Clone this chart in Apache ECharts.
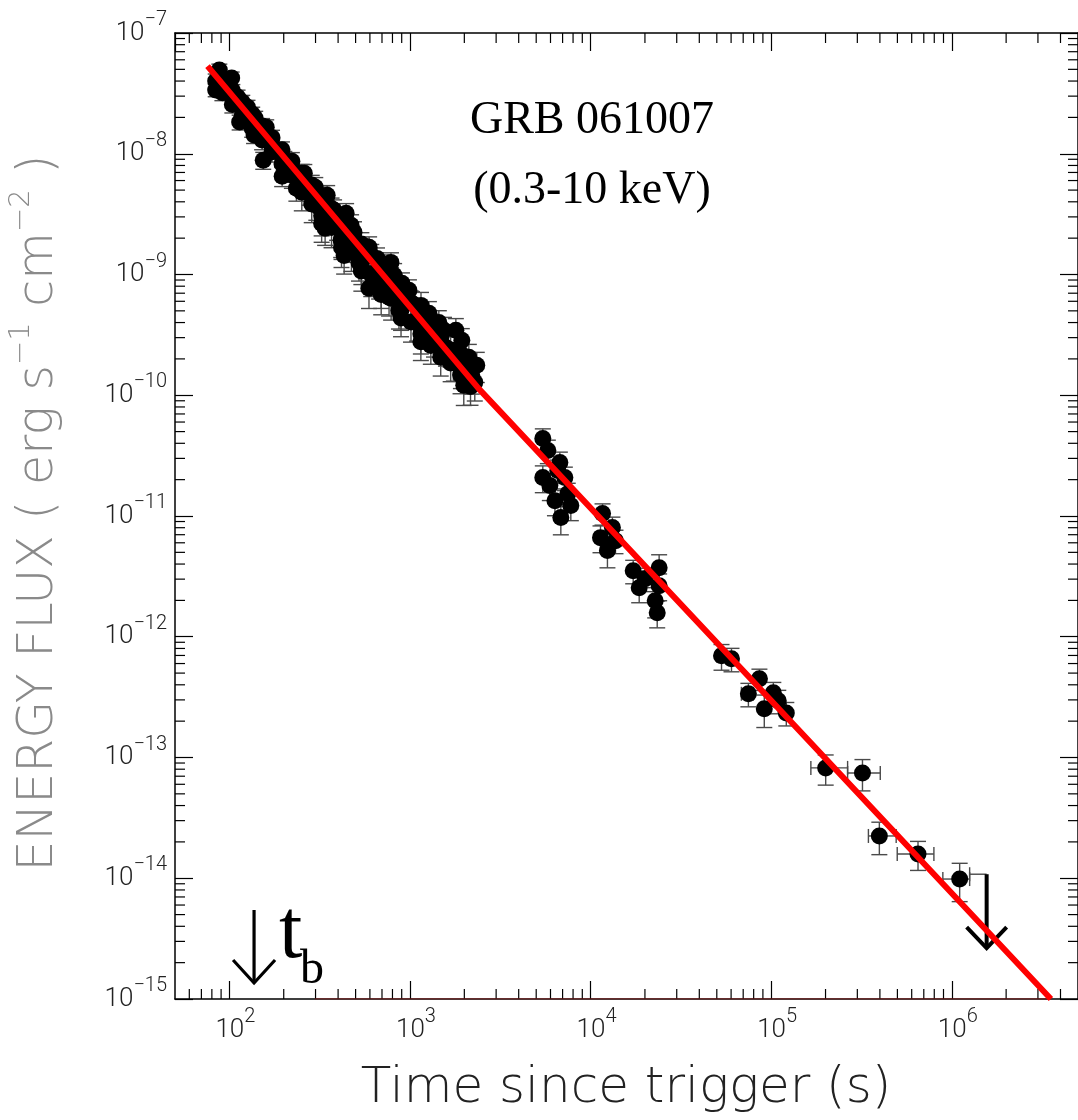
<!DOCTYPE html>
<html><head><meta charset="utf-8">
<script src="https://cdn.jsdelivr.net/npm/echarts@6/dist/echarts.min.js"></script>
<style>html,body{margin:0;padding:0;background:#fff}#c{width:1078px;height:1120px}</style>
</head><body><div id="c"></div>
<script>
// ---------- data ----------
const earlyT = [88,95,84,103,111,126,114,139,160,137,171,154,220,196,260,235,299,348,303,380,443,339,416,490,594,432,522,785,617,718,903,593,766,1026,987,869,1273,1094,1445,1795,1358,1582,1937,2118,1750,2200,1986,2285,97.5,119.5,146.5,184,201.5,243.6,276.8,322,357,395,460,543,657,675,817,961,1151,1242,1543,1866,1915,2344,472,848,
  91.5,103.9,117.9,133.8,151.8,172.3,195.6,221.9,251.8,285.8,324.3,368,417.7,474,538,610.5,692.9,786.3,892.3,1013,1149,1305,1480,1680,1906,2164,
  84,91.5,103.9,117.9,133.8,151.8,172.3,195.6,221.9,251.8,285.8,324.3,368,417.7,474,538,610.5,692.9,786.3,892.3,1013,1149,1305,1480,1680,1906,2164,
  324.3,417.7,538,692.9,892.3,1149];
const earlyF = [4.93e-8,3.92e-8,3.37e-8,4.24e-8,2.95e-8,2.43e-8,1.83e-8,1.97e-8,1.66e-8,1.43e-8,1.18e-8,8.85e-9,8.04e-9,6.52e-9,6.90e-9,5.19e-9,5.29e-9,4.54e-9,3.75e-9,3.40e-9,3.22e-9,2.42e-9,1.92e-9,2.24e-9,1.68e-9,1.44e-9,1.26e-9,1.26e-9,1.02e-9,1.19e-9,8.45e-10,7.69e-10,6.47e-10,5.77e-10,7.40e-10,5.05e-10,4.77e-10,4.01e-10,4.01e-10,3.45e-10,2.96e-10,2.49e-10,2.85e-10,2.06e-10,1.87e-10,1.46e-10,1.21e-10,1.28e-10,3.37e-8,2.30e-8,1.57e-8,1.07e-8,8.85e-9,6.65e-9,4.81e-9,4.12e-9,3.10e-9,2.56e-9,1.75e-9,1.59e-9,1.36e-9,8.95e-10,9.85e-10,6.11e-10,5.55e-10,3.45e-10,3.45e-10,2.35e-10,1.67e-10,1.77e-10,2.56e-9,7.40e-10,
  4.18e-8,3.34e-8,2.67e-8,2.13e-8,1.70e-8,1.36e-8,1.08e-8,8.66e-9,6.91e-9,5.52e-9,4.41e-9,3.52e-9,2.81e-9,2.24e-9,1.79e-9,1.43e-9,1.14e-9,9.12e-10,7.29e-10,5.82e-10,4.64e-10,3.71e-10,2.96e-10,2.37e-10,1.89e-10,1.51e-10,
  4.01e-8,3.20e-8,2.56e-8,2.05e-8,1.63e-8,1.30e-8,1.04e-8,8.27e-9,6.63e-9,4.81e-9,3.84e-9,3.07e-9,2.45e-9,1.96e-9,1.56e-9,1.25e-9,9.95e-10,7.93e-10,6.35e-10,5.07e-10,4.05e-10,3.23e-10,2.58e-10,2.06e-10,1.85e-10,1.47e-10,1.18e-10,
  2.64e-9,1.68e-9,1.07e-9,6.82e-10,4.36e-10,2.77e-10];
const earlyRelErr = [0.12,0.12,0.12,0.12,0.14,0.14,0.14,0.14,0.15,0.15,0.15,0.16,0.16,0.18,0.18,0.22,0.2,0.2,0.25,0.22,0.2,0.28,0.28,0.22,0.22,0.3,0.3,0.2,0.28,0.22,0.22,0.32,0.3,0.25,0.22,0.3,0.25,0.3,0.25,0.25,0.3,0.3,0.25,0.28,0.3,0.3,0.32,0.3,0.12,0.14,0.15,0.16,0.18,0.18,0.22,0.22,0.25,0.25,0.28,0.25,0.22,0.3,0.25,0.28,0.28,0.3,0.28,0.3,0.32,0.28,0.22,0.25,
  0.12,0.12,0.14,0.14,0.15,0.15,0.16,0.18,0.18,0.2,0.2,0.22,0.22,0.22,0.24,0.24,0.24,0.25,0.25,0.25,0.26,0.26,0.26,0.28,0.28,0.28,
  0.14,0.14,0.15,0.15,0.16,0.17,0.18,0.2,0.22,0.3,0.3,0.32,0.32,0.32,0.32,0.34,0.34,0.34,0.34,0.32,0.32,0.32,0.3,0.3,0.3,0.3,0.3,
  0.3,0.32,0.32,0.32,0.3,0.3];

const lateT = [5440,5800,6760,5440,7205,6350,7475,6845,7775,5950,6585,
  11650,13210,11350,12400,13740,
  17220,18590,23970,23970,22800,23390,20060,
  53100,60300,
  86100,74800,102800,109500,91600,121300,
  200400,320300,397200,650300,1106000];
const lateF = [4.39e-11,3.48e-11,2.77e-11,2.08e-11,2.08e-11,1.34e-11,1.53e-11,9.70e-12,1.22e-11,1.79e-11,2.38e-11,
  1.05e-11,8.02e-12,6.62e-12,5.17e-12,6.25e-12,
  3.52e-12,2.55e-12,3.73e-12,2.65e-12,1.99e-12,1.58e-12,3.03e-12,
  6.95e-13,6.57e-13,
  4.49e-13,3.37e-13,3.43e-13,2.95e-13,2.53e-13,2.34e-13,
  8.2e-14,7.45e-14,2.24e-14,1.59e-14,9.85e-15];
const lateRelErr = [0.2,0.22,0.22,0.25,0.22,0.25,0.22,0.28,0.25,0.25,0.22,
  0.2,0.22,0.25,0.28,0.22,
  0.22,0.25,0.28,0.25,0.28,0.25,0.22,
  0.24,0.22,
  0.2,0.22,0.22,0.22,0.3,0.22,
  0.28,0.29,0.3,0.27,0.35];
const lateTLo = [5300,5650,6600,5300,7040,6200,7300,6690,7600,5800,6430,
  11300,12850,11000,12050,13380,
  16700,18050,23300,23300,22150,22700,19500,
  50000,57200,
  82000,68400,98000,104500,87000,115500,
  165900,265000,345500,498900,892500];
const lateTHi = [5580,5950,6920,5580,7370,6500,7650,7000,7950,6100,6740,
  12000,13570,11700,12750,14100,
  17740,19130,24640,24640,23450,24080,20620,
  56300,63400,
  90200,79600,107600,114500,96200,127100,
  265000,401900,492300,796300,1256000];

// upper limit
const ulT = [1.56e6], ulF = [1.08e-14], ulTLo = [1.256e6], ulTip = [2.64e-15];

// model power law (red) and faint floor line
const fitT = [75.7, 2395, 3.54e6];
const fitF = [5.32e-8, 1.14e-10, 1e-15];
const floorT = [297, 3.54e6];
const floorF = [1e-15, 1e-15];

// break-time marker
const tBreak = [137];

// axes
const X_MIN = 50, X_MAX = 5e6, Y_MIN = 1e-15, Y_MAX = 1e-7;
const xMinorTicks = [], yMinorTicks = [];
for (let n = 1; n <= 6; n++) for (let m = 2; m <= 9; m++) xMinorTicks.push(m * Math.pow(10, n));
for (let n = -15; n <= -8; n++) for (let m = 2; m <= 9; m++) yMinorTicks.push(m * Math.pow(10, n));

// ---------- chart ----------
const FONT = 'Roboto, "DejaVu Sans", sans-serif';
const WIDE = '"DejaVu Sans", Roboto, sans-serif';
const SERIF = '"Liberation Serif", "Times New Roman", serif';
const chart = echarts.init(document.getElementById('c'), null, {renderer: 'canvas'});

const points = earlyT.map((t, i) => [t, earlyF[i]]).concat(lateT.map((t, i) => [t, lateF[i]]));
const errData = earlyT.map((t, i) => [t, earlyF[i], earlyF[i] * (1 - earlyRelErr[i]), earlyF[i] * (1 + earlyRelErr[i]), t, t])
  .concat(lateT.map((t, i) => [t, lateF[i], lateF[i] * (1 - lateRelErr[i]), lateF[i] * (1 + lateRelErr[i]), lateTLo[i], lateTHi[i]]));

function expOf(v) { return Math.round(Math.log10(v)); }

function renderErr(params, api) {
  const t = api.value(0), f = api.value(1);
  const c = api.coord([t, f]);
  const lo = api.coord([t, api.value(2)]);
  const hi = api.coord([t, api.value(3)]);
  const cw = 8;
  const st = {stroke: '#4a4a4a', lineWidth: 1.4};
  const ch = [
    {type: 'line', shape: {x1: c[0], y1: lo[1], x2: c[0], y2: hi[1]}, style: st},
    {type: 'line', shape: {x1: c[0] - cw, y1: lo[1], x2: c[0] + cw, y2: lo[1]}, style: st},
    {type: 'line', shape: {x1: c[0] - cw, y1: hi[1], x2: c[0] + cw, y2: hi[1]}, style: st}
  ];
  const tl = api.value(4), th = api.value(5);
  if (th > tl) {
    const a = api.coord([tl, f]), b = api.coord([th, f]);
    ch.push({type: 'line', shape: {x1: a[0], y1: c[1], x2: b[0], y2: c[1]}, style: st});
    ch.push({type: 'line', shape: {x1: a[0], y1: c[1] - 7, x2: a[0], y2: c[1] + 7}, style: st});
    ch.push({type: 'line', shape: {x1: b[0], y1: c[1] - 7, x2: b[0], y2: c[1] + 7}, style: st});
  }
  return {type: 'group', children: ch};
}

function renderMinor(params, api) {
  const bl = api.coord([X_MIN, Y_MIN]);
  const tr = api.coord([X_MAX, Y_MAX]);
  const L = 10, st = {stroke: '#000', lineWidth: 1.2};
  const ch = [];
  xMinorTicks.forEach(v => {
    if (v <= X_MIN || v >= X_MAX) return;
    const x = api.coord([v, Y_MIN])[0];
    ch.push({type: 'line', shape: {x1: x, y1: bl[1], x2: x, y2: bl[1] - L}, style: st});
    ch.push({type: 'line', shape: {x1: x, y1: tr[1], x2: x, y2: tr[1] + L}, style: st});
  });
  yMinorTicks.forEach(v => {
    const y = api.coord([X_MIN, v])[1];
    ch.push({type: 'line', shape: {x1: bl[0], y1: y, x2: bl[0] + L, y2: y}, style: st});
    ch.push({type: 'line', shape: {x1: tr[0], y1: y, x2: tr[0] - L, y2: y}, style: st});
  });
  return {type: 'group', children: ch};
}

function renderUL(params, api) {
  const top = api.coord([api.value(0), api.value(1)]);
  const left = api.coord([api.value(2), api.value(1)]);
  const tip = api.coord([api.value(0), api.value(3)]);
  const st = {stroke: '#000', lineWidth: 4};
  const thin = {stroke: '#4a4a4a', lineWidth: 1.4};
  return {type: 'group', children: [
    {type: 'line', shape: {x1: left[0], y1: top[1], x2: top[0], y2: top[1]}, style: thin},
    {type: 'line', shape: {x1: left[0], y1: top[1] - 7, x2: left[0], y2: top[1] + 7}, style: thin},
    {type: 'line', shape: {x1: top[0], y1: top[1], x2: top[0], y2: tip[1]}, style: st},
    {type: 'polyline', shape: {points: [[top[0] - 20, tip[1] - 21], [top[0], tip[1]], [top[0] + 20, tip[1] - 21]]}, style: {stroke: '#000', lineWidth: 4, fill: null}}
  ]};
}

function renderBreak(params, api) {
  const p = api.coord([api.value(0), Y_MIN]);
  const x = p[0], yb = p[1];
  const st = {stroke: '#000', lineWidth: 3.2};
  return {type: 'group', children: [
    {type: 'line', shape: {x1: x, y1: yb - 89, x2: x, y2: yb - 17}, style: st},
    {type: 'polyline', shape: {points: [[x - 21, yb - 39], [x, yb - 16], [x + 21, yb - 39]]}, style: {stroke: '#000', lineWidth: 3.2, fill: null}},
    {type: 'text', style: {text: 't', x: x + 25, y: yb - 106, font: '84px ' + SERIF, fill: '#000', align: 'left', verticalAlign: 'top'}},
    {type: 'text', style: {text: 'b', x: x + 46, y: yb - 53, font: '48px ' + SERIF, fill: '#000', align: 'left', verticalAlign: 'top'}}
  ]};
}

const supRich = {
  b: {fontSize: 26, lineHeight: 46, fontFamily: FONT, fontWeight: 300, color: '#222'},
  s: {fontSize: 20, lineHeight: 12, verticalAlign: 'top', fontFamily: FONT, fontWeight: 300, color: '#222'}
};
const supRichX = {
  b: {fontSize: 26, lineHeight: 46, fontFamily: FONT, fontWeight: 300, color: '#222', padding: [0, 0, 0, 12]},
  s: {fontSize: 20, lineHeight: 12, verticalAlign: 'top', fontFamily: FONT, fontWeight: 300, color: '#222'}
};

const axisCommon = {
  type: 'log', logBase: 10,
  axisLine: {show: true, onZero: false, lineStyle: {color: '#000', width: 1.5}},
  axisTick: {show: true, inside: true, length: 18, lineStyle: {color: '#000', width: 1.2}},
  splitLine: {show: false}, minorTick: {show: false}
};

const option = {
  animation: false,
  backgroundColor: '#fff',
  grid: {left: 175, top: 33, right: -6, bottom: 121, containLabel: false},
  xAxis: [
    Object.assign({}, axisCommon, {min: X_MIN, max: X_MAX, position: 'bottom', splitNumber: 5,
      axisLabel: {show: true, margin: 8, showMinLabel: false, showMaxLabel: false,
        formatter: v => '{b|10}{s|' + expOf(v) + '}', rich: supRichX}}),
    Object.assign({}, axisCommon, {min: X_MIN, max: X_MAX, position: 'top', splitNumber: 5, axisLabel: {show: false}})
  ],
  yAxis: [
    Object.assign({}, axisCommon, {min: Y_MIN, max: Y_MAX, position: 'left', splitNumber: 8,
      axisLabel: {show: true, margin: 8,
        formatter: v => '{b|10}{s|\u2212' + (-expOf(v)) + '}', rich: supRich}}),
    Object.assign({}, axisCommon, {min: Y_MIN, max: Y_MAX, position: 'right', splitNumber: 8, axisLabel: {show: false}})
  ],
  graphic: [
    {type: 'text', x: 592, y: 121, z: 100, style: {text: 'GRB 061007', font: '46px ' + SERIF, fill: '#000', align: 'center', verticalAlign: 'middle'}},
    {type: 'text', x: 592, y: 191, z: 100, style: {text: '(0.3-10 keV)', font: '46px ' + SERIF, fill: '#000', align: 'center', verticalAlign: 'middle'}},
    {type: 'text', x: 626, y: 1089, z: 100, style: {text: 'Time since trigger (s)', font: '200 50px ' + WIDE, fill: '#222', align: 'center', verticalAlign: 'middle'}},
    {type: 'text', x: 39, y: 513, rotation: Math.PI / 2, z: 100, style: {
      text: 'ENERGY FLUX ( erg s{s|\u22121} cm{s|\u22122} )', font: '200 49px ' + WIDE, fill: '#8a8a8a',
      lineHeight: 64, align: 'center', verticalAlign: 'middle',
      rich: {s: {fontSize: 29, lineHeight: 30, verticalAlign: 'top', fontFamily: WIDE, fontWeight: 200, fill: '#8a8a8a', color: '#8a8a8a'}}
    }}
  ],
  series: [
    {type: 'custom', name: 'minor', coordinateSystem: 'cartesian2d', data: [[X_MIN, Y_MIN]], renderItem: renderMinor, clip: false, silent: true, z: 1},
    {type: 'custom', name: 'err', coordinateSystem: 'cartesian2d', data: errData, renderItem: renderErr, z: 2, silent: true},
    {type: 'scatter', name: 'flux', data: points, symbol: 'circle', symbolSize: 17, itemStyle: {color: '#000', opacity: 1}, z: 3, silent: true},
    {type: 'line', name: 'floor', data: floorT.map((t, i) => [t, floorF[i]]), symbol: 'none', lineStyle: {color: '#8b1a1a', width: 1.2}, z: 4, silent: true},
    {type: 'custom', name: 'ul', coordinateSystem: 'cartesian2d', data: [[ulT[0], ulF[0], ulTLo[0], ulTip[0]]], renderItem: renderUL, z: 4, silent: true},
    {type: 'line', name: 'fit', data: fitT.map((t, i) => [t, fitF[i]]), symbol: 'none', clip: true, lineStyle: {color: '#ff0000', width: 6}, z: 5, silent: true},
    {type: 'custom', name: 'tb', coordinateSystem: 'cartesian2d', data: [[tBreak[0], Y_MIN]], renderItem: renderBreak, clip: false, z: 6, silent: true}
  ]
};
chart.setOption(option);
</script>
</body></html>
